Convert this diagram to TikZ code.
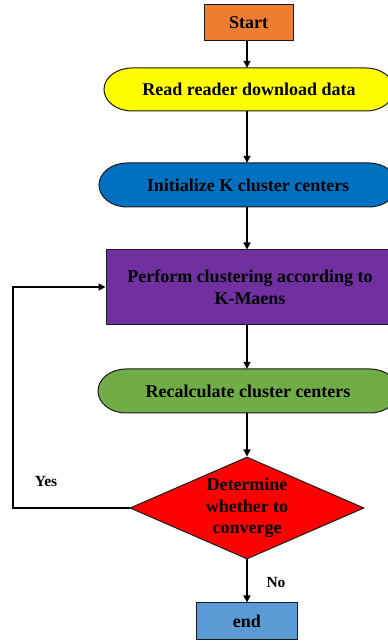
\documentclass[tikz,border=0pt]{standalone}
\usepackage{fontspec}
\setmainfont{Liberation Serif}
\usetikzlibrary{arrows.meta,shapes.geometric}
\definecolor{cStart}{HTML}{ED7D31}
\definecolor{cYellow}{HTML}{FFFF00}
\definecolor{cBlue}{HTML}{0070C0}
\definecolor{cPurple}{HTML}{7030A0}
\definecolor{cGreen}{HTML}{70AD47}
\definecolor{cRed}{HTML}{FF0000}
\definecolor{cEnd}{HTML}{5B9BD5}
\definecolor{cEdge}{HTML}{1A1A1A}
\tikzset{
  txt/.style={font=\bfseries\fontsize{18pt}{21.5pt}\selectfont, text=black, align=center, inner sep=0pt},
  boxshape/.style={txt, draw=cEdge, line width=1pt, rectangle},
  shapeline/.style={draw=cEdge, line width=1pt},
  conn/.style={draw=black, line width=1.3pt, -{Triangle[length=7pt,width=7pt]}},
  lbl/.style={font=\bfseries\fontsize{15.5pt}{18pt}\selectfont, inner sep=0pt}
}
% stadium: name, cx, cy, halfw, halfh, rx, color, text
\newcommand\mystad[8]{%
  \filldraw[shapeline, fill=#7] ({#2-#4+#6},{#3-#5}) -- ({#2+#4-#6},{#3-#5})
    arc[start angle=-90, end angle=90, x radius=#6, y radius=#5]
    -- ({#2-#4+#6},{#3+#5})
    arc[start angle=90, end angle=270, x radius=#6, y radius=#5] -- cycle;
  \node[txt, minimum width={2*#4}, minimum height={2*#5}] (#1) at (#2,#3) {#8};}
\begin{document}
\begin{tikzpicture}[x=1pt,y=1pt]
\useasboundingbox (0,0) rectangle (388,643);
\clip (0,0) rectangle (388,643);
\fill[white] (0,0) rectangle (388,643);
% nodes
\node[boxshape, fill=cStart, minimum width=89pt, minimum height=36pt] (start) at (248.5,620) {Start};
\mystad{read}{249}{553.5}{145}{21.5}{28}{cYellow}{Read reader download data}
\mystad{init}{248}{458}{149}{22}{28}{cBlue}{Initialize K cluster centers}
\node[boxshape, fill=cPurple, minimum width=288pt, minimum height=75pt] (perf) at (250,355.5) {Perform clustering according to\\K-Maens};
\mystad{recalc}{248}{252}{150}{22}{28}{cGreen}{Recalculate cluster centers}
\node[txt, draw=cEdge, line width=1pt, fill=cRed, diamond, aspect=2.3, minimum width=234pt, minimum height=102pt, inner sep=0pt] (det) at (247,135) {};
\node[txt] at (247,135) {Determine\\whether to\\converge};
\node[boxshape, fill=cEnd, minimum width=101pt, minimum height=37pt] (end) at (247,21.5) {end};
\coordinate (loopA) at (13,135);
\coordinate (loopB) at (13,356);
% connectors
\draw[conn] (start.south -| 247,0) -- (read.north -| 247,0);
\draw[conn] (read.south -| 247,0) -- (init.north -| 247,0);
\draw[conn] (init.south -| 247,0) -- (perf.north -| 247,0);
\draw[conn] (perf.south -| 247,0) -- (recalc.north -| 247,0);
\draw[conn] (recalc.south -| det.north) -- (det.north);
\draw[conn] (det.south) -- (end.north -| det.south);
\draw[conn] (det.west) -- (loopA) -- (loopB) -- (perf.west |- loopB);
\node[lbl] (yes) at (46,161) {Yes};
\node[lbl] (no) at (276,60) {No};
\end{tikzpicture}
\end{document}
